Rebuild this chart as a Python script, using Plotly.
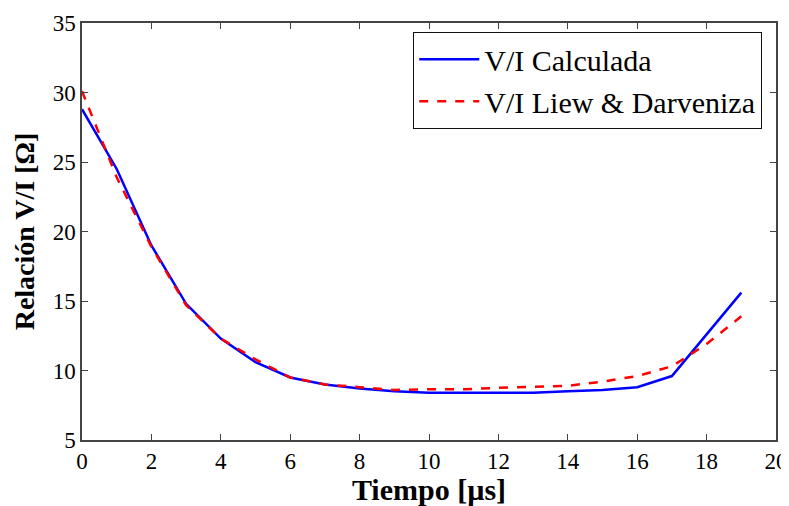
import plotly.graph_objects as go

tiempo = [0, 1, 2, 3, 4, 5, 6, 7, 8, 9, 10, 11, 12, 13, 14, 15, 16, 17, 18, 19]
vi_calculada = [28.8, 24.5, 19.0, 14.8, 12.3, 10.6, 9.5, 9.0, 8.7, 8.5, 8.4, 8.4, 8.35, 8.4, 8.5, 8.6, 8.8, 9.6, 12.6, 15.6]
vi_liew = [30.1, 23.9, 18.9, 14.7, 12.3, 10.8, 9.5, 9.0, 8.8, 8.6, 8.65, 8.65, 8.75, 8.8, 8.9, 9.2, 9.6, 10.3, 11.9, 13.9]

x_ticks = list(range(0, 21, 2))
y_ticks = list(range(5, 36, 5))

font_family = "Liberation Serif"

fig = go.Figure()
fig.add_trace(go.Scatter(x=tiempo, y=vi_calculada, mode="lines", name="V/I Calculada",
                         line=dict(color="#0000ff", width=2.5)))
fig.add_trace(go.Scatter(x=tiempo, y=vi_liew, mode="lines", name="V/I Liew &amp; Darveniza",
                         line=dict(color="#ff0000", width=2.5, dash="dash")))

axis_common = dict(showline=True, linecolor="#444444", linewidth=1.5, mirror="allticks",
                   ticks="inside", ticklen=6, tickcolor="#444444", tickwidth=1.2,
                   showgrid=False, zeroline=False, automargin=False,
                   tickfont=dict(family=font_family, size=23, color="black"))

# page body has an 8px margin, so the figure is sized and offset accordingly
fig.update_layout(
    width=781, height=498,
    margin=dict(l=74, r=13, t=15, b=66),
    paper_bgcolor="white", plot_bgcolor="white",
    showlegend=True,
    legend=dict(x=0.477, y=0.978, xanchor="left", yanchor="top",
                bordercolor="#111111", borderwidth=1.2, bgcolor="white",
                font=dict(family=font_family, size=30, color="black"),
                tracegroupgap=0, itemwidth=60),
    xaxis=dict(range=[0, 20], tickvals=x_ticks,
               title=dict(text="<b>Tiempo [µs]</b>", font=dict(family=font_family, size=30, color="black"), standoff=2),
               **axis_common),
    yaxis=dict(range=[5, 35], tickvals=y_ticks,
               title=dict(text="<b>Relación V/I [Ω]</b>", font=dict(family=font_family, size=28, color="black"), standoff=10),
               **axis_common),
)

fig.write_html("out.html")
